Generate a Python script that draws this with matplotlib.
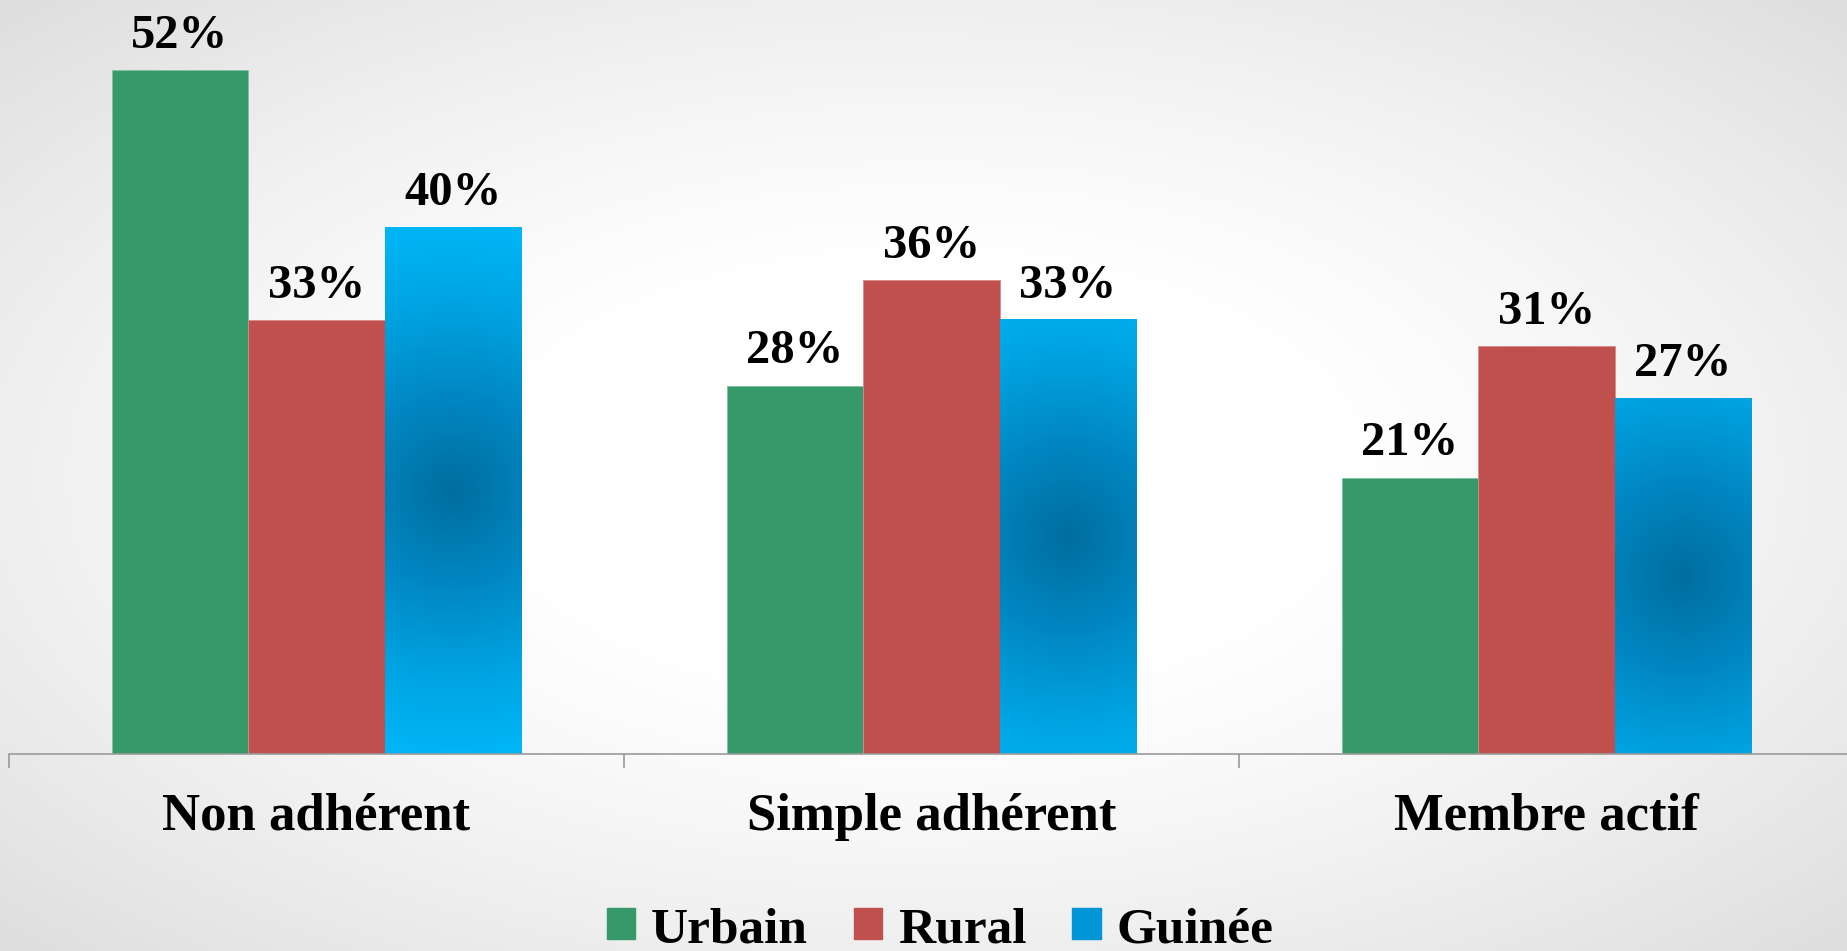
import numpy as np
import matplotlib
matplotlib.use("Agg")
import matplotlib.pyplot as plt
from matplotlib.colors import LinearSegmentedColormap
from matplotlib.patches import Patch

categories = ["Non adhérent", "Simple adhérent", "Membre actif"]
series_names = ["Urbain", "Rural", "Guinée"]
urbain = [52, 28, 21]
rural = [33, 36, 31]
guinee = [40, 33, 27]

plt.rcParams['font.family'] = ['Liberation Serif', 'DejaVu Serif']
plt.rcParams['font.weight'] = 'bold'

W, H = 1847, 951
fig = plt.figure(figsize=(W / 100, H / 100), dpi=100)

# background: soft radial grey gradient
bg = fig.add_axes([0, 0, 1, 1], zorder=-10)
yy, xx = np.mgrid[0:1:300j, 0:1:600j]
r = np.sqrt(((xx - 0.5) / 0.5) ** 2 + ((yy - 0.5) / 0.5) ** 2) / np.sqrt(2)
shade = 1 - 0.13 * np.clip((r - 0.3) / 0.7, 0, 1) ** 1.3
bg.imshow(np.dstack([shade] * 3), extent=[0, 1, 0, 1], aspect='auto')
bg.axis('off')

ax = fig.add_axes([9 / W, 197 / H, 1845 / W, 754 / H])
ax.set_facecolor('none')

bw = 0.222
x = np.arange(len(categories))
green, red = '#35996A', '#C0504D'
blue_cmap = LinearSegmentedColormap.from_list(
    'blue', [(0, '#006E9E'), (0.35, '#0088C4'), (0.7, '#00A6E4'), (1, '#00B8FA')])

ax.bar(x - bw, urbain, bw, color=green, edgecolor='#7FC0A0', linewidth=0.6)
ax.bar(x, rural, bw, color=red, edgecolor='#D98A88', linewidth=0.6)
blue_bars = ax.bar(x + bw, guinee, bw, color='none', linewidth=0)

# radial gradient inside each blue bar
for b in blue_bars:
    x0, w, h = b.get_x(), b.get_width(), b.get_height()
    gy, gx = np.mgrid[-1:1:200j, -1:1:60j]
    hw_px, hh_px = 116 * 1.178 / 2, h * 13.16 / 2
    d = np.sqrt((gx * hw_px) ** 2 + (gy * hh_px) ** 2) / 280
    ax.imshow(np.clip(d, 0, 1), cmap=blue_cmap, vmin=0, vmax=1,
              extent=[x0, x0 + w, 0, h], aspect='auto', zorder=2)
ax.set_xlim(-0.5, 2.5)
ax.set_ylim(0, 57.3)

for xs, vals in [(x - bw, urbain), (x, rural), (x + bw, guinee)]:
    for xi, v in zip(xs, vals):
        ax.annotate(f"{v}%", (xi, v), xytext=(0, 16), textcoords='offset points',
                    ha='center', va='baseline', fontsize=35, fontweight='bold',
                    color='black')

for s in ['top', 'right', 'left']:
    ax.spines[s].set_visible(False)
ax.spines['bottom'].set_color('#9A9A9A')
ax.spines['bottom'].set_linewidth(1.2)
ax.set_yticks([])
ax.set_xticks(x)
ax.set_xticklabels(categories, fontsize=38, fontweight='bold')
ax.tick_params(axis='x', length=0, pad=28)
ax.set_xticks([-0.5, 0.5, 1.5, 2.5], minor=True)
ax.tick_params(axis='x', which='minor', length=10, width=1.2, color='#9A9A9A')

handles = [Patch(color=green), Patch(color=red), Patch(color='#0096D6')]
fig.legend(handles, series_names, loc='center', bbox_to_anchor=(0.509, 0.022),
           ncol=3, frameon=False, handlelength=0.55,
           handleheight=0.55, handletextpad=0.3, columnspacing=0.9,
           prop={'weight': 'bold', 'size': 37})

fig.savefig('out.png', dpi=100)
